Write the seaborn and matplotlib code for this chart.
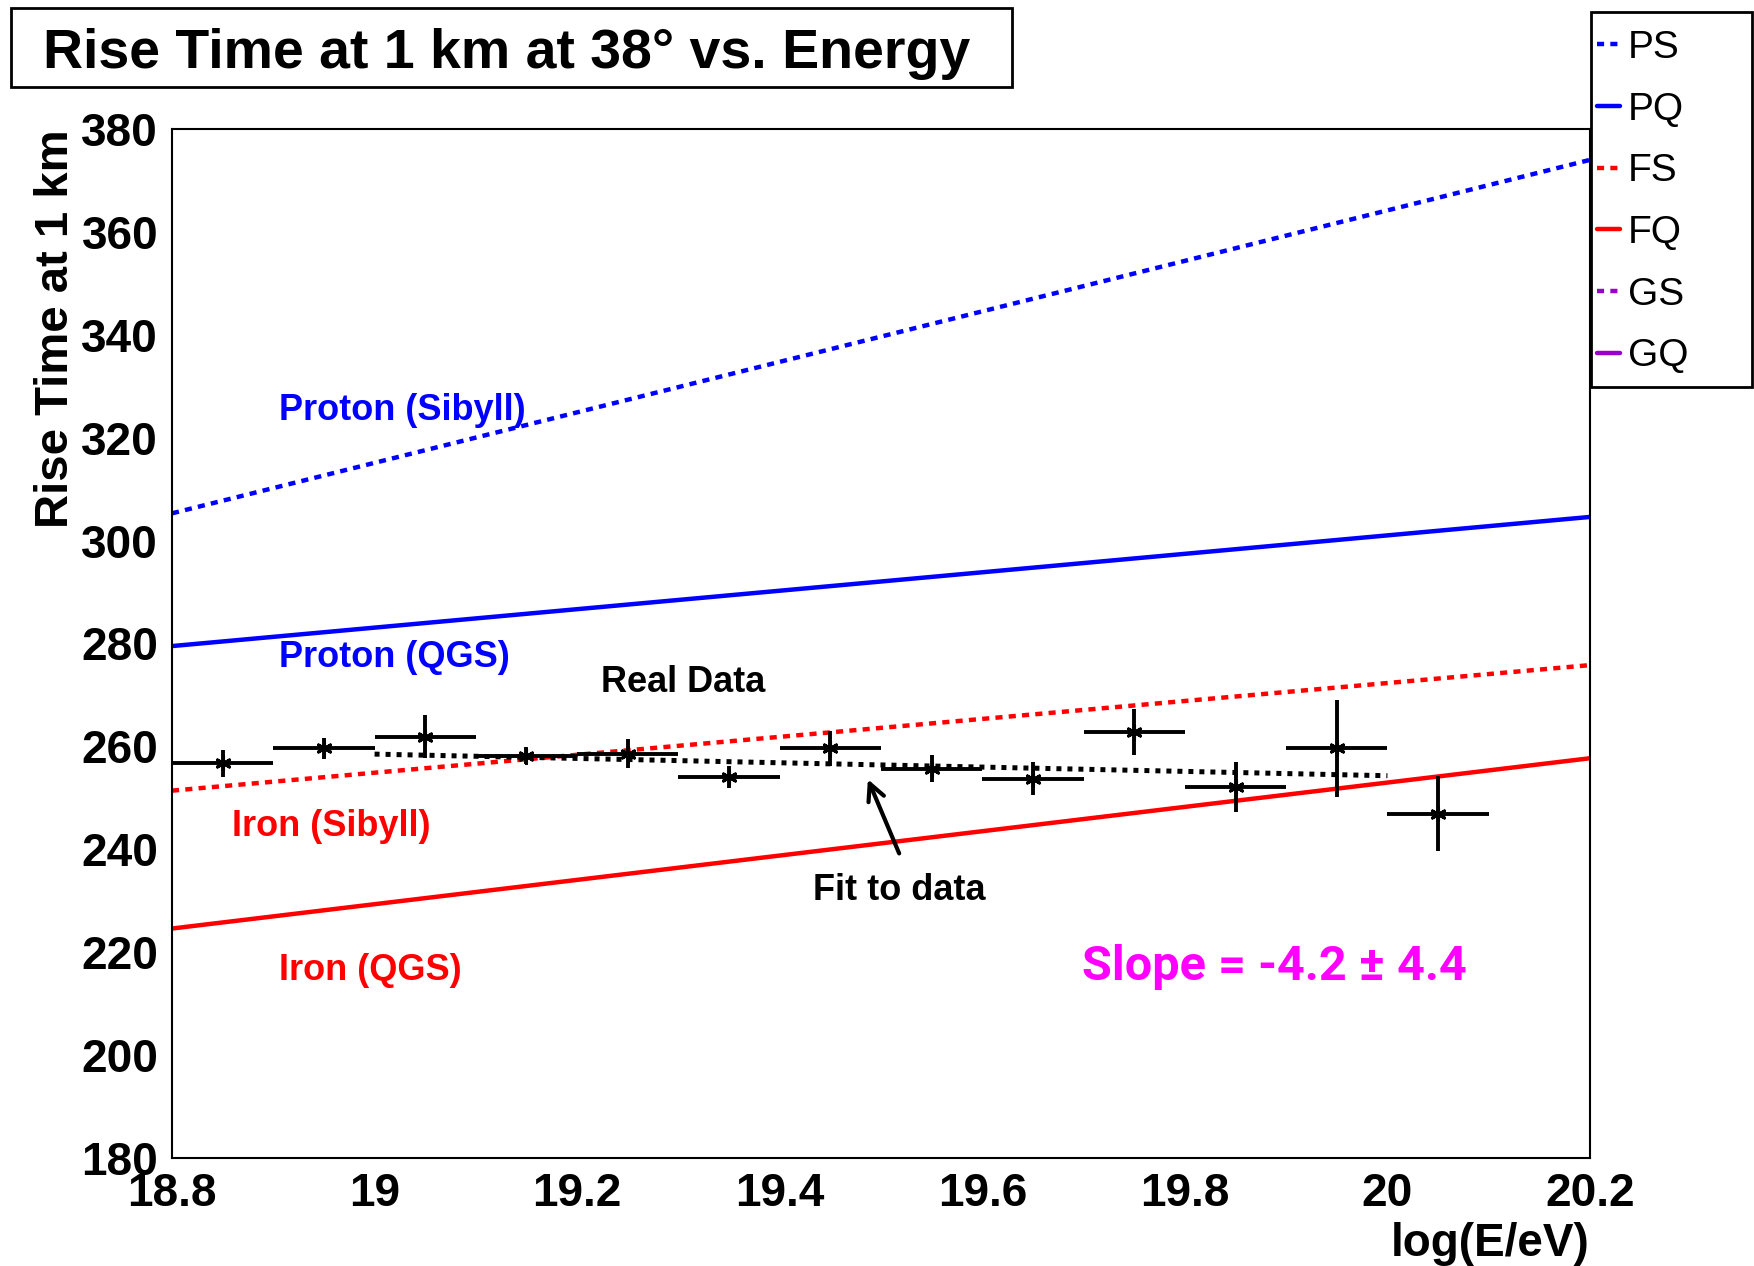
import numpy as np
import pandas as pd
import matplotlib
matplotlib.use("Agg")
import matplotlib.pyplot as plt
import seaborn as sns
from matplotlib.lines import Line2D
from matplotlib.patches import Rectangle
from matplotlib.ticker import MultipleLocator, FormatStrFormatter

# ======================
# data
# ======================
energy = [18.85, 18.95, 19.05, 19.15, 19.25, 19.35, 19.45,
          19.55, 19.65, 19.75, 19.85, 19.95, 20.05]
rise_time = [256.7, 259.6, 261.9, 258.2, 258.6, 254.1, 259.6,
             255.7, 253.7, 262.8, 252.1, 259.6, 246.9]
rise_err = [2.6, 2.0, 4.2, 1.6, 2.8, 2.1, 3.4, 2.6, 3.2, 4.4, 4.9, 9.4, 7.3]
bin_half = [0.05] * len(energy)

# model lines (end points)
model_x = [18.8, 20.2]
ps_y = [305.3, 374.0]   # proton sibyll
pq_y = [279.5, 304.6]   # proton qgs
fs_y = [251.4, 275.8]   # iron sibyll
fq_y = [224.6, 257.7]   # iron qgs

# fit to data
fit_x = [19.0, 20.0]
fit_y = [258.5, 254.3]

legend_labels = ["PS", "PQ", "FS", "FQ", "GS", "GQ"]

BLUE = "#0000ff"
RED = "#ff0000"
PURPLE = "#9900cc"
MAGENTA = "#ff00ff"

# ======================
# style
# ======================
sns.set_theme(style="white")
plt.rcParams["font.family"] = ["Liberation Sans", "DejaVu Sans"]
plt.rcParams["axes.linewidth"] = 1.5
for k in ["text.color", "axes.labelcolor", "xtick.color", "ytick.color"]:
    plt.rcParams[k] = "black"

W, H = 1754, 1266
fig = plt.figure(figsize=(W / 100, H / 100), dpi=100)
ax = fig.add_axes([172 / W, 1 - 1158 / H, (1590 - 172) / W, (1158 - 129) / H])

models = pd.DataFrame({
    "x": model_x * 4,
    "y": ps_y + pq_y + fs_y + fq_y,
    "model": ["PS"] * 2 + ["PQ"] * 2 + ["FS"] * 2 + ["FQ"] * 2,
})
dotted = (1.6, 1.4)
sns.lineplot(data=models, x="x", y="y", hue="model", style="model",
             palette={"PS": BLUE, "PQ": BLUE, "FS": RED, "FQ": RED},
             dashes={"PS": dotted, "PQ": "", "FS": dotted, "FQ": ""},
             linewidth=3.2, legend=False, ax=ax)

# fit (black dotted)
sns.lineplot(x=fit_x, y=fit_y, color="black", linewidth=3.6,
             dashes=False, ax=ax).lines[-1].set_dashes((1.0, 1.2))

# data points with error bars
ax.errorbar(energy, rise_time, xerr=bin_half, yerr=rise_err, fmt="none",
            ecolor="black", elinewidth=2.8, capsize=0, zorder=4)
sns.scatterplot(x=energy, y=rise_time, marker=(6, 2, 0), s=100,
                color="black", linewidth=2.2, ax=ax, zorder=5)

# ======================
# axes
# ======================
ax.set_xlim(18.8, 20.2)
ax.set_ylim(180, 380)
ax.xaxis.set_major_locator(MultipleLocator(0.2))
ax.xaxis.set_minor_locator(MultipleLocator(0.05))
ax.yaxis.set_major_locator(MultipleLocator(20))
ax.yaxis.set_minor_locator(MultipleLocator(5))
ax.xaxis.set_major_formatter(FormatStrFormatter("%g"))
ax.yaxis.set_major_formatter(FormatStrFormatter("%g"))
ax.tick_params(axis="both", which="both", direction="in", width=1.5,
               color="black", labelcolor="black", top=False, right=False)
ax.tick_params(axis="y", which="major", length=31, pad=10, labelsize=33)
ax.tick_params(axis="y", which="minor", length=16)
ax.tick_params(axis="x", which="major", length=27, pad=10, labelsize=33)
ax.tick_params(axis="x", which="minor", length=14)
for lab in ax.get_xticklabels() + ax.get_yticklabels():
    lab.set_fontweight("bold")
for sp in ax.spines.values():
    sp.set_color("black")
    sp.set_visible(True)

ax.set_xlabel("log(E/eV)", fontsize=33, fontweight="bold", loc="right")
ax.xaxis.set_label_coords(1.0, -0.062)
ax.set_ylabel("Rise Time at 1 km", fontsize=34, fontweight="bold", loc="top")
ax.yaxis.set_label_coords(-0.066, 1.0)

# ======================
# annotations
# ======================
txt = dict(fontsize=26, fontweight="bold", ha="left", va="center")
ax.text(18.906, 325.3, "Proton (Sibyll)", color=BLUE, **txt)
ax.text(18.906, 277.2, "Proton (QGS)", color=BLUE, **txt)
ax.text(19.224, 272.5, "Real Data", color="black", **txt)
ax.text(18.859, 244.4, "Iron (Sibyll)", color=RED, **txt)
ax.text(19.433, 232.0, "Fit to data", color="black", **txt)
ax.text(18.906, 216.4, "Iron (QGS)", color=RED, **txt)
ax.text(19.698, 217.1, "Slope = -4.2 ± 4.4", color=MAGENTA, fontsize=35,
        fontweight="bold", ha="left", va="center",
        family=["Roboto", "Liberation Sans", "DejaVu Sans"])
ax.annotate("", xy=(19.486, 254.1), xytext=(19.519, 238.7),
            arrowprops=dict(arrowstyle="->", color="black", lw=3,
                            mutation_scale=30))

# ======================
# title box
# ======================
fig.patches.append(Rectangle((11 / W, 1 - 87 / H), (1012 - 11) / W, 79 / H,
                             transform=fig.transFigure, fill=False,
                             edgecolor="black", linewidth=2))
fig.text(507 / W, 1 - 54 / H, "Rise Time at 1 km at 38° vs. Energy",
         fontsize=40, fontweight="bold", ha="center", va="center")

# ======================
# legend box
# ======================
fig.patches.append(Rectangle((1591 / W, 1 - 387 / H), (1752 - 1591) / W,
                             (387 - 12) / H, transform=fig.transFigure,
                             fill=True, facecolor="white",
                             edgecolor="black", linewidth=2, zorder=3))
leg_colors = [BLUE, BLUE, RED, RED, PURPLE, PURPLE]
leg_styles = [dotted, None, dotted, None, dotted, None]
handles = []
for c, st in zip(leg_colors, leg_styles):
    h = Line2D([0], [0], color=c, linewidth=3.2)
    if st is not None:
        h.set_dashes(st)
    handles.append(h)
leg = fig.legend(handles, legend_labels, loc="upper left",
                 bbox_to_anchor=(1597 / W, 1 - 30 / H), frameon=False,
                 fontsize=28, handlelength=0.6, handletextpad=0.2,
                 labelspacing=0.66, borderpad=0.0, borderaxespad=0.0)
leg.set_zorder(4)

plt.savefig("out.png", dpi=100)
plt.close()
